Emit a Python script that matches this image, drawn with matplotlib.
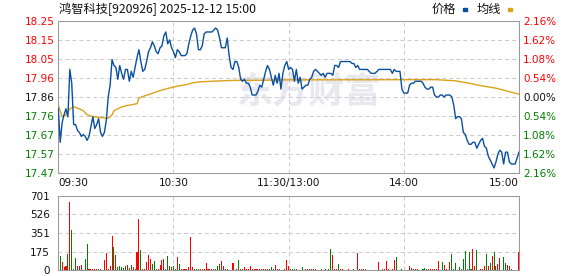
import matplotlib.pyplot as plt
from matplotlib.patches import Rectangle

plt.rcParams['font.family'] = ['DejaVu Sans']

# --- data ---
title = "鸿智科技[920926] 2025-12-12 15:00"
prev_close = 17.86

# one price per minute, 09:30 .. 15:00 (241 points)
price = [
    17.80, 17.63, 17.73, 17.77, 17.80, 17.76, 18.00, 17.93, 17.72, 17.72,
    17.69, 17.68, 17.66, 17.67, 17.66, 17.64, 17.66, 17.71, 17.76, 17.70,
    17.72, 17.75, 17.68, 17.66, 17.68, 17.74, 17.86, 17.92, 18.05, 18.02,
    18.01, 17.95, 18.02, 17.98, 17.95, 18.00, 18.00, 17.94, 17.99, 17.96,
    18.01,
    18.06, 18.10, 18.04, 17.99, 18.00, 18.04, 18.09, 18.11, 18.14, 18.12,
    18.09, 18.08, 18.11, 18.12, 18.17, 18.19, 18.13, 18.15, 18.11, 18.09,
    18.06, 18.10, 18.09, 18.07, 18.07, 18.07, 18.08, 18.13, 18.17, 18.20,
    18.21, 18.18, 18.10, 18.10, 18.12, 18.18, 18.19, 18.19, 18.19, 18.19,
    18.20, 18.21, 18.20, 18.16, 18.11, 18.11, 18.11, 18.16, 18.07, 18.01,
    18.00, 18.04, 18.04, 18.01, 17.95, 17.94, 17.95, 17.93, 17.93, 17.91,
    17.87, 17.87, 17.87, 17.89, 17.92, 17.91, 17.95, 17.99, 18.02, 18.00,
    17.96, 17.92, 17.97, 17.93, 17.98, 17.90, 17.98, 18.02, 18.04, 18.00,
    18.01, 18.00, 17.94, 18.00, 17.93, 17.96, 17.90, 17.91, 17.92, 17.92,
    17.95, 17.96, 17.99, 18.00, 17.99, 17.98, 17.97, 17.98, 17.96, 17.98,
    17.98, 17.98, 17.97, 18.02, 18.02, 18.01, 18.04, 18.04, 18.04, 18.04,
    18.04, 18.04, 18.03, 18.03, 18.01, 18.02, 18.00, 18.00, 18.00, 18.00,
    18.00, 17.99, 17.98, 17.98, 17.98, 17.99, 18.00, 18.00, 18.00, 18.00,
    18.00, 18.00, 18.00, 17.98, 18.00, 17.99, 17.99, 17.99, 17.90, 17.88,
    17.88, 17.88, 17.92, 17.93, 17.93, 17.94, 17.94, 17.94, 17.94, 17.93,
    17.91, 17.90, 17.90, 17.91, 17.91, 17.87, 17.86, 17.86, 17.87, 17.87,
    17.86, 17.87,
    17.87, 17.87, 17.86, 17.82, 17.75, 17.76, 17.76, 17.75, 17.68, 17.67,
    17.64, 17.62, 17.62, 17.63, 17.63, 17.60, 17.62, 17.64, 17.65, 17.61,
    17.60, 17.56, 17.54, 17.52, 17.50, 17.53, 17.57, 17.59, 17.58, 17.52,
    17.58, 17.58, 17.53, 17.52, 17.52, 17.52, 17.55, 17.58,
]

# average price line (minute, value)
avg_t = [0, 1, 2, 4, 6, 8, 11, 13, 15, 18, 22, 26, 28, 29, 31, 33, 36, 40, 41, 42,
         45, 48, 51, 55, 58, 62, 67, 70, 74, 80, 90, 105, 120, 197, 207, 214, 221,
         228, 235, 240]
avg_v = [17.82, 17.79, 17.76, 17.77, 17.80, 17.81, 17.80, 17.79, 17.77, 17.76,
         17.756, 17.752, 17.769, 17.79, 17.80, 17.81, 17.817, 17.824, 17.826, 17.855,
         17.866, 17.875, 17.886, 17.898, 17.906, 17.915, 17.923, 17.932, 17.937, 17.940,
         17.944, 17.945, 17.947, 17.948, 17.942, 17.93, 17.916, 17.905, 17.887, 17.874]

# volume per minute
vol = [
    0, 133, 79, 32, 38, 152, 647, 379, 13, 110,
    38, 38, 47, 0, 104, 246, 10, 10, 10, 10,
    10, 10, 13, 0, 95, 164, 13, 38, 322, 218,
    142, 32, 38, 25, 15, 38, 47, 15, 47, 25,
    10, 170, 483, 190, 10, 10, 79, 142, 104, 57,
    85, 10, 10, 47, 95, 107, 10, 133, 38, 25,
    38, 10, 123, 57, 10, 10, 10, 10, 25, 313,
    25, 10, 10, 10, 10, 10, 10, 66, 10, 10,
    10, 10, 10, 38, 57, 85, 38, 10, 10, 0,
    0, 69, 0, 10, 95, 10, 13, 25, 13, 10,
    38, 10, 10, 10, 10, 10, 10, 10, 10, 10,
    10, 25, 13, 47, 13, 13, 0, 0, 10, 95,
    38, 10, 10, 10, 10, 0, 0, 28, 0, 10,
    10, 10, 10, 10, 10, 0, 0, 10, 0, 10,
    0, 10, 199, 142, 10, 10, 57, 10, 10, 0,
    0, 10, 0, 0, 10, 0, 161, 10, 10, 10,
    10, 0, 0, 0, 0, 0, 0, 76, 0, 10,
    10, 88, 10, 0, 10, 95, 123, 0, 0, 10,
    0, 0, 0, 38, 19, 10, 10, 10, 0, 0,
    10, 19, 10, 10, 10, 10, 10, 10, 88, 0,
    76, 47, 10, 0, 76, 152, 10, 66, 0, 28,
    10, 107, 180, 10, 170, 10, 199, 38, 190, 0,
    10, 10, 38, 152, 38, 66, 133, 170, 38, 57,
    114, 0, 123, 66, 47, 38, 10, 0, 0, 0,
    170,
]
vol_side = list(
    "rgrrrgrggg" "rrrrggrrrr" "rggrrrrrrg" "rgggggrrgr" "rrrgrrrrrg"
    "grrrrrrgrg" "grrgrrrrrr" "rggrgrrrrr" "rrrggrrrgr" "rrrrggrrrr"
    "rrrrrrrrrr" "rggrrrrrrr" "rgggrrrgrr" "rrrrrrrgrr" "rggrrrgrrr"
    "rrrrgrrrrr" "rrrrrrrrrr" "rrrrrrgrrg" "rrrrrrrrrr" "gggrrrrrrr"
    "grrrrgggrg" "rgggggrrgr" "rrrgrgrgrr" "rrggrrgrrr" "r"
)

time_pos = [0, 60, 120, 180, 240]
time_labels = ["09:30", "10:30", "11:30/13:00", "14:00", "15:00"]
pct_steps = [-4, -3, -2, -1, 0, 1, 2, 3, 4]
vol_ticks = [0, 175, 351, 526, 701]

RED = '#ff0000'
GREEN = '#008000'
BLUE = '#0a4fa0'
GOLD = '#dba21a'
GRID = '#cccccc'
EDGE = '#999999'
DASH = (0, (3.8, 2.9))

W, H = 578, 276
fig = plt.figure(figsize=(W / 100, H / 100), dpi=100)

# --- price panel ---
ax = fig.add_axes([58.3 / W, 1 - 173 / H, 460.7 / W, 152 / H])
levels = [prev_close * (1 + k * 0.0054) for k in pct_steps]
ax.set_xlim(0, 240)
ax.set_ylim(levels[0], levels[-1])
ax.text(0.545, 0.53, "东方财富", transform=ax.transAxes, ha='center', va='center',
        fontsize=26, fontweight='bold', color='#e8e8ee', family=['Noto Sans CJK SC'],
        zorder=0)
ax.plot(range(len(price)), price, color=BLUE, lw=1.0, zorder=3)
ax.plot(avg_t, avg_v, color=GOLD, lw=1.0, zorder=2)

ax.set_yticks(levels)
ax.set_yticklabels([f"{v:.2f}" for v in levels])
ax.set_xticks(time_pos)
ax.set_xticklabels(time_labels)
for lab, ha in zip(ax.get_xticklabels(), ['left', 'center', 'center', 'center', 'right']):
    lab.set_ha(ha)
ax.tick_params(length=0, labelsize=7.5, colors='#111111')
ax.tick_params(axis='y', pad=2.5)
ax.tick_params(axis='x', pad=3.5)
for lab, k in zip(ax.get_yticklabels(), pct_steps):
    lab.set_color(RED if k > 0 else GREEN if k < 0 else '#111111')
ax.grid(True, color=GRID, lw=0.75, ls=DASH)
for s in ax.spines.values():
    s.set_color(EDGE)
    s.set_linewidth(0.75)

ax2 = ax.twinx()
ax2.set_ylim(ax.get_ylim())
ax2.set_yticks(levels)
ax2.set_yticklabels([f"{abs(k) * 0.54:.2f}%" for k in pct_steps])
ax2.tick_params(length=0, labelsize=7.5, pad=3)
for lab, k in zip(ax2.get_yticklabels(), pct_steps):
    lab.set_color(RED if k > 0 else GREEN if k < 0 else '#111111')
for s in ax2.spines.values():
    s.set_visible(False)

# --- volume panel ---
axv = fig.add_axes([58.3 / W, 6 / H, 460.7 / W, 74 / H])
bar_colors = [RED if s == 'r' else GREEN for s in vol_side]
axv.bar(range(len(vol)), vol, width=0.55, color=bar_colors, zorder=3)
axv.set_xlim(0, 240)
axv.set_ylim(0, vol_ticks[-1])
axv.set_yticks(vol_ticks)
axv.set_xticks([60, 120, 180])
axv.set_xticklabels([])
axv.tick_params(length=0, labelsize=7.5, colors='#111111', pad=6)
axv.grid(True, color=GRID, lw=0.75, ls=DASH)
axv.set_axisbelow(True)
for s in axv.spines.values():
    s.set_color(EDGE)
    s.set_linewidth(0.75)

# --- header ---
fig.text(59.3 / W, 1 - 9.5 / H, title, ha='left', va='center', fontsize=8.8,
         color='#111111', family=['Noto Sans CJK SC', 'DejaVu Sans'])
fig.text(431.5 / W, 1 - 9.5 / H, "价格", ha='left', va='center', fontsize=8.8,
         color='#111111', family=['Noto Sans CJK SC'])
fig.text(476.5 / W, 1 - 9.5 / H, "均线", ha='left', va='center', fontsize=8.8,
         color='#111111', family=['Noto Sans CJK SC'])
fig.add_artist(Rectangle((462.5 / W, 1 - 11 / H), 4 / W, 3 / H,
                         transform=fig.transFigure, color=BLUE))
fig.add_artist(Rectangle((508 / W, 1 - 11 / H), 4 / W, 3 / H,
                         transform=fig.transFigure, color=GOLD))

fig.savefig("out.png", dpi=100)
